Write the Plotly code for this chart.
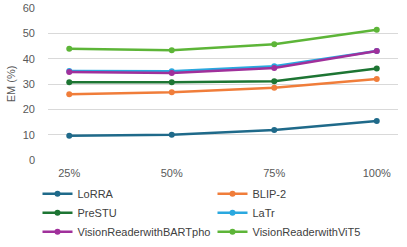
import plotly.graph_objects as go

categories = ["25%", "50%", "75%", "100%"]
lorra = [9.6, 10.0, 11.8, 15.4]
blip2 = [26.0, 26.7, 28.5, 32.0]
prestu = [30.7, 30.7, 31.1, 36.1]
latr = [35.1, 35.0, 37.0, 43.0]
bartpho = [34.7, 34.3, 36.3, 43.0]
vit5 = [43.9, 43.3, 45.7, 51.4]

series = [
    ("LoRRA", lorra, "#1F6A8A"),
    ("BLIP-2", blip2, "#F07D3A"),
    ("PreSTU", prestu, "#1D7533"),
    ("LaTr", latr, "#2AA8DF"),
    ("VisionReaderwithBARTpho", bartpho, "#A0309B"),
    ("VisionReaderwithViT5", vit5, "#5DB538"),
]

fig = go.Figure()
for name, vals, col in series:
    fig.add_trace(go.Scatter(
        x=categories, y=vals, name=name, mode="lines+markers",
        line=dict(color=col, width=2.5),
        marker=dict(color=col, size=6, symbol="circle"),
    ))

fig.update_layout(
    width=407, height=247,
    margin=dict(l=48, r=9, t=8, b=87, autoexpand=False),
    paper_bgcolor="white", plot_bgcolor="white",
    font=dict(family="Liberation Sans, Arial, sans-serif", size=11, color="#595959"),
    showlegend=True,
    legend=dict(
        orientation="h", x=-0.03, y=-0.127, xanchor="left", yanchor="top",
        entrywidth=130, entrywidthmode="pixels",
        font=dict(size=11, color="#404040"),
        tracegroupgap=0, itemwidth=30,
    ),
)
fig.update_xaxes(showgrid=False, showline=False, ticks="", ticklabelstandoff=5,
                 tickfont=dict(size=11, color="#595959"))
fig.update_yaxes(range=[0, 60], dtick=10, showgrid=True, gridcolor="#D9D9D9", gridwidth=1,
                 zeroline=False, showline=False, ticks="", ticklabelstandoff=12,
                 title=dict(text="EM (%)", font=dict(size=11, color="#595959"), standoff=4),
                 tickfont=dict(size=11, color="#595959"))

# remove the browser's default 8px body margin so the figure sits at the page origin
fig.write_html("out.html", config={"displayModeBar": False},
               post_script="document.body.style.margin='0';")
